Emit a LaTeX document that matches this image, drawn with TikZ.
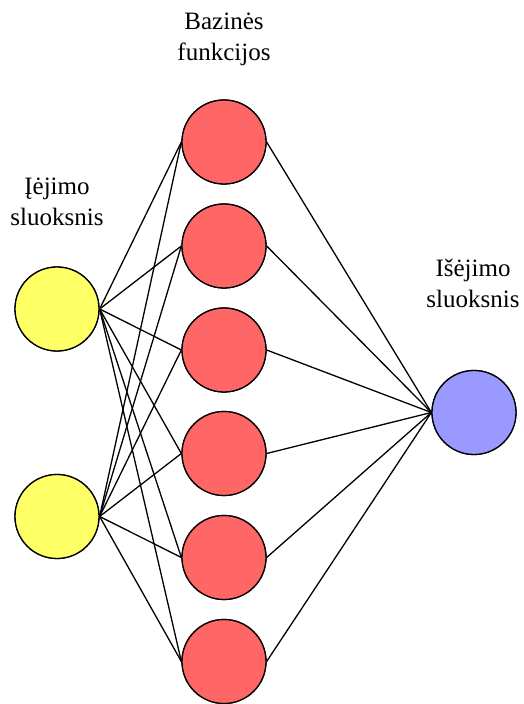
\documentclass[tikz,border=0pt]{standalone}
\usepackage{fontspec}
\setmainfont{Liberation Serif}
\definecolor{inyellow}{HTML}{FFFF66}
\definecolor{hidred}{HTML}{FF6666}
\definecolor{outblue}{HTML}{9999FF}
\begin{document}
\begin{tikzpicture}[x=1pt,y=1pt,
  neuron/.style={circle,draw=black,line width=1.3pt,minimum size=84pt,inner sep=0pt},
  link/.style={line width=1.3pt,black},
  caption/.style={align=center,inner sep=0pt,font=\fontsize{25}{31}\selectfont}]
\useasboundingbox (0,0) rectangle (523,704);
% input layer
\node[neuron,fill=inyellow] (i1) at (57,395) {};
\node[neuron,fill=inyellow] (i2) at (57,187.5) {};
% basis functions
\node[neuron,fill=hidred] (h1) at (224,562) {};
\node[neuron,fill=hidred] (h2) at (224,458) {};
\node[neuron,fill=hidred] (h3) at (224,354) {};
\node[neuron,fill=hidred] (h4) at (224,250.5) {};
\node[neuron,fill=hidred] (h5) at (224,146.5) {};
\node[neuron,fill=hidred] (h6) at (224,42.5) {};
% output layer
\node[neuron,fill=outblue] (o) at (474,291.5) {};
% connections
\foreach \h in {h1,h2,h3,h4,h5,h6}{
  \draw[link] (i1.east) -- (\h.west);
  \draw[link] (i2.east) -- (\h.west);
  \draw[link] (\h.east) -- (o.west);
}
% redraw circles above the lines
\foreach \n/\c in {i1/inyellow,i2/inyellow,h1/hidred,h2/hidred,h3/hidred,h4/hidred,h5/hidred,h6/hidred,o/outblue}{
  \draw[fill=\c,line width=1.3pt] (\n) circle (42pt);
}
% labels (base anchor sits on the last line)
\node[caption,anchor=base] (tb) at (224,643) {Bazinės\\funkcijos};
\node[caption,anchor=base] (ti) at (57,478) {Įėjimo\\sluoksnis};
\node[caption,anchor=base] (to) at (473,396) {Išėjimo\\sluoksnis};
\end{tikzpicture}
\end{document}
